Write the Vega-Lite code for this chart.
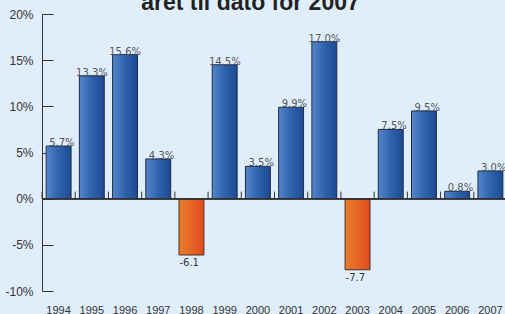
{
  "$schema": "https://vega.github.io/schema/vega-lite/v6.json",
  "width": 465,
  "height": 277,
  "autosize": {"type": "none"},
  "padding": {"left": 42, "top": 14, "right": 0, "bottom": 23},
  "background": "#e0eefc",
  "config": {"view": {"stroke": null}},
  "title": {
    "text": "året til dato for 2007",
    "font": "Liberation Sans",
    "fontSize": 23,
    "fontWeight": "bold",
    "color": "#222222",
    "anchor": "middle",
    "frame": "group",
    "dx": -24,
    "baseline": "alphabetic",
    "offset": -25
  },
  "data": {
    "values": [
      {"year": "1994", "value": 5.7},
      {"year": "1995", "value": 13.3},
      {"year": "1996", "value": 15.6},
      {"year": "1997", "value": 4.3},
      {"year": "1998", "value": -6.1},
      {"year": "1999", "value": 14.5},
      {"year": "2000", "value": 3.5},
      {"year": "2001", "value": 9.9},
      {"year": "2002", "value": 17.0},
      {"year": "2003", "value": -7.7},
      {"year": "2004", "value": 7.5},
      {"year": "2005", "value": 9.5},
      {"year": "2006", "value": 0.8},
      {"year": "2007", "value": 3.0}
    ]
  },
  "encoding": {
    "x": {
      "field": "year",
      "type": "ordinal",
      "sort": "ascending",
      "scale": {"paddingInner": 0, "paddingOuter": 0},
      "axis": {
        "title": null,
        "orient": "bottom",
        "domain": false,
        "ticks": false,
        "labelAngle": 0,
        "labelPadding": 13,
        "labelFont": "Liberation Sans",
        "labelFontSize": 11,
        "labelColor": "#333333"
      }
    },
    "y": {
      "field": "value",
      "type": "quantitative",
      "scale": {"domain": [-10, 20], "nice": false},
      "axis": {
        "title": null,
        "values": [-10, -5, 0, 5, 10, 15, 20],
        "labelExpr": "datum.value + '%'",
        "grid": false,
        "domainColor": "#333333",
        "tickColor": "#333333",
        "tickSize": -11,
        "labelPadding": 20,
        "labelFont": "Liberation Sans",
        "labelFontSize": 12,
        "labelColor": "#333333"
      }
    }
  },
  "layer": [
    {
      "transform": [{"filter": "datum.value >= 0"}],
      "mark": {
        "type": "bar",
        "width": {"band": 0.75},
        "stroke": "#1c2b48",
        "strokeWidth": 1,
        "color": {
          "gradient": "linear",
          "x1": 0, "y1": 0, "x2": 1, "y2": 0,
          "stops": [
            {"offset": 0, "color": "#5586cb"},
            {"offset": 0.5, "color": "#2f63ae"},
            {"offset": 1, "color": "#1d4a92"}
          ]
        }
      }
    },
    {
      "transform": [{"filter": "datum.value < 0"}],
      "mark": {
        "type": "bar",
        "width": {"band": 0.75},
        "stroke": "#4a2e28",
        "strokeWidth": 1,
        "color": {
          "gradient": "linear",
          "x1": 0, "y1": 0, "x2": 1, "y2": 0,
          "stops": [
            {"offset": 0, "color": "#ea7f2b"},
            {"offset": 1, "color": "#e04a1f"}
          ]
        }
      }
    },
    {
      "mark": {"type": "rule", "color": "#333333", "strokeWidth": 1},
      "encoding": {
        "x": {"value": 0},
        "x2": {"value": 465},
        "y": {"datum": 0}
      }
    },
    {
      "mark": {"type": "rule", "color": "#333333", "strokeWidth": 1, "xOffset": -16.6},
      "encoding": {
        "y": {"datum": 0},
        "y2": {"datum": 0.76}
      }
    },
    {
      "transform": [{"filter": "datum.value >= 0"}],
      "mark": {
        "type": "text",
        "align": "right",
        "baseline": "alphabetic",
        "dx": 16,
        "dy": 0,
        "font": "DejaVu Sans",
        "fontSize": 10,
        "color": "#555555",
        "text": {"expr": "format(datum.value, '.1f') + '%'"}
      }
    },
    {
      "transform": [{"filter": "datum.value < 0"}],
      "mark": {
        "type": "text",
        "align": "left",
        "baseline": "top",
        "dx": -12,
        "dy": 3,
        "font": "DejaVu Sans",
        "fontSize": 10,
        "color": "#333333",
        "text": {"expr": "datum.value + ''"}
      }
    }
  ]
}
